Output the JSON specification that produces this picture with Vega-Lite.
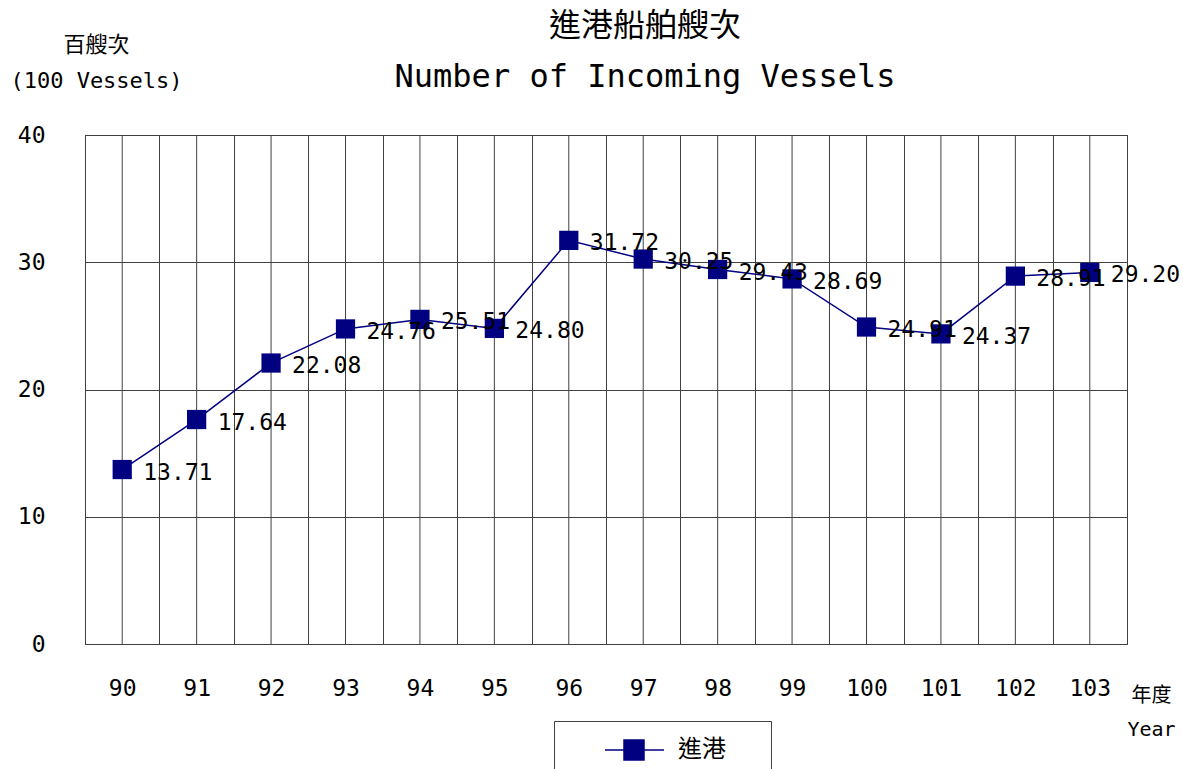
{
  "$schema": "https://vega.github.io/schema/vega-lite/v6.json",
  "width": 1042,
  "height": 509,
  "autosize": {"type": "none"},
  "padding": {"left": 85, "top": 135, "right": 56, "bottom": 125},
  "background": "white",
  "config": {
    "view": {"stroke": "#404040", "strokeWidth": 1},
    "font": "DejaVu Sans Mono"
  },
  "title": {
    "text": "進港船舶艘次",
    "subtitle": "Number of Incoming Vessels",
    "font": "Noto Sans CJK TC",
    "fontSize": 32,
    "fontWeight": "normal",
    "color": "black",
    "subtitleFont": "DejaVu Sans Mono",
    "subtitleFontSize": 32,
    "subtitleColor": "black",
    "subtitlePadding": 19,
    "anchor": "middle",
    "frame": "group",
    "dx": 39,
    "dy": 81,
    "offset": 20
  },
  "data": {
    "values": [
      {"year": "90", "value": 13.71, "series": "進港"},
      {"year": "91", "value": 17.64, "series": "進港"},
      {"year": "92", "value": 22.08, "series": "進港"},
      {"year": "93", "value": 24.76, "series": "進港"},
      {"year": "94", "value": 25.51, "series": "進港"},
      {"year": "95", "value": 24.80, "series": "進港"},
      {"year": "96", "value": 31.72, "series": "進港"},
      {"year": "97", "value": 30.25, "series": "進港"},
      {"year": "98", "value": 29.43, "series": "進港"},
      {"year": "99", "value": 28.69, "series": "進港"},
      {"year": "100", "value": 24.91, "series": "進港"},
      {"year": "101", "value": 24.37, "series": "進港"},
      {"year": "102", "value": 28.91, "series": "進港"},
      {"year": "103", "value": 29.20, "series": "進港"}
    ]
  },
  "encoding": {
    "x": {
      "field": "year",
      "type": "ordinal",
      "sort": null,
      "scale": {"type": "band", "paddingInner": 0, "paddingOuter": 0},
      "axis": {
        "grid": true,
        "tickBand": "extent",
        "gridColor": "#404040",
        "gridOpacity": 1,
        "gridWidth": 1,
        "domainColor": "#404040",
        "ticks": false,
        "labelAngle": 0,
        "labelFontSize": 23,
        "labelFont": "DejaVu Sans Mono",
        "labelColor": "black",
        "labelPadding": 33,
        "title": ["年度", "Year"],
        "titleFont": "DejaVu Sans Mono, Noto Sans CJK TC",
        "titleFontSize": 20,
        "titleFontWeight": "normal",
        "titleColor": "black",
        "titleAngle": 0,
        "titleAlign": "center",
        "titleBaseline": "top",
        "titleLineHeight": 34,
        "titleX": 1066,
        "titleY": 41
      }
    },
    "y": {
      "field": "value",
      "type": "quantitative",
      "scale": {"domain": [0, 40], "nice": false, "zero": true},
      "axis": {
        "values": [0, 10, 20, 30, 40],
        "grid": true,
        "gridColor": "#404040",
        "gridOpacity": 1,
        "domainColor": "#404040",
        "ticks": false,
        "labelFontSize": 23,
        "labelFont": "DejaVu Sans Mono",
        "labelColor": "black",
        "labelPadding": 40,
        "title": ["百艘次", "(100 Vessels)"],
        "titleFont": "DejaVu Sans Mono, Noto Sans CJK TC",
        "titleFontSize": 22,
        "titleFontWeight": "normal",
        "titleColor": "black",
        "titleAngle": 0,
        "titleAlign": "center",
        "titleBaseline": "top",
        "titleLineHeight": 36,
        "titleX": 11,
        "titleY": -101
      }
    }
  },
  "layer": [
    {
      "mark": {"type": "rule", "color": "#404040", "strokeWidth": 1},
      "encoding": {
        "y": {"datum": 0},
        "y2": {"datum": 40}
      }
    },
    {
      "mark": {"type": "line", "strokeWidth": 1.5},
      "encoding": {
        "color": {
          "field": "series",
          "type": "nominal",
          "scale": {"range": ["#000080"]},
          "legend": {
            "orient": "none",
            "legendX": 469,
            "legendY": 586,
            "title": null,
            "padding": 17,
            "strokeColor": "#404040",
            "fillColor": "white",
            "symbolType": "M2.2,0H8.1M4.1,-1H6.1V1H4.1ZM16.8,0h0",
            "symbolSize": 400,
            "symbolStrokeWidth": 1.5,
            "symbolFillColor": "#000080",
            "symbolStrokeColor": "#000080",
            "labelFont": "Noto Sans CJK TC",
            "labelFontSize": 24,
            "labelColor": "black",
            "labelOffset": 83,
            "encode": {
              "symbols": {
                "update": {
                  "fill": {"value": "#000080"},
                  "stroke": {"value": "#000080"},
                  "strokeWidth": {"value": 1.5},
                  "opacity": {"value": 1}
                }
              }
            }
          }
        }
      }
    },
    {
      "mark": {"type": "point", "shape": "square", "filled": true, "size": 370, "opacity": 1},
      "encoding": {
        "color": {"field": "series", "type": "nominal"}
      }
    },
    {
      "mark": {"type": "text", "align": "left", "baseline": "middle", "dx": 21, "dy": 3, "fontSize": 23, "font": "DejaVu Sans Mono", "color": "black"},
      "encoding": {
        "text": {"field": "value", "type": "quantitative", "format": ".2f"}
      }
    }
  ]
}
